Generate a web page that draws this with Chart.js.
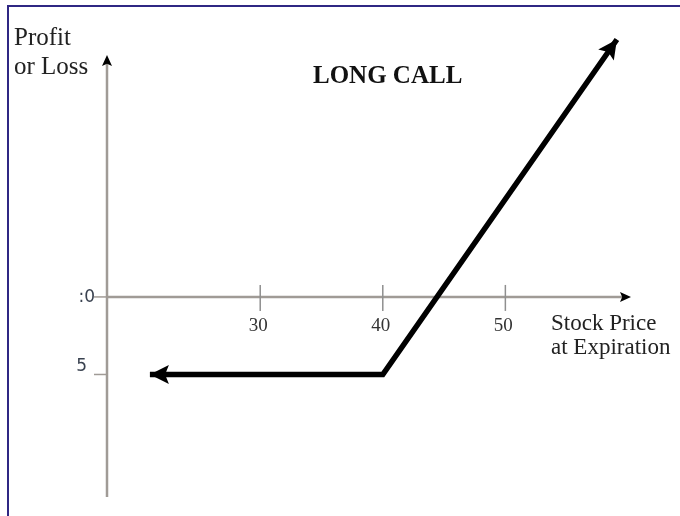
<!DOCTYPE html>
<html>
<head>
<meta charset="utf-8">
<script src="https://cdn.jsdelivr.net/npm/chart.js@4"></script>
<style>
  html, body { margin: 0; padding: 0; background: #fff; }
  .wrap { position: relative; width: 680px; height: 516px; overflow: hidden; }
  .frame { position: absolute; left: 7px; top: 5px; right: -10px; bottom: -10px;
           border-left: 2px solid #2f2783; border-top: 2px solid #2f2783; pointer-events: none; }
  canvas { position: absolute; left: 0; top: 0; }
</style>
</head>
<body>
<div class="wrap">
  <canvas id="payoff" width="680" height="516"></canvas>
  <div class="frame"></div>
</div>
<script>
// ===== DATA =====
const stockPrice  = [21, 40, 59.1];     // price at expiration
const profitLoss  = [-5, -5, 16.6];     // profit or loss
const xTicks      = [30, 40, 50];
const xTickLabels = ['30', '40', '50'];
const yTicks      = [0, -5];
const yTickLabels = [':0', '5'];
const xRange = [17.5, 60.25];
const yRange = [-12.9, 15.6];

const SERIF = '"Liberation Serif", "Times New Roman", serif';
const AXIS_GREY = '#a09b96';

// ===== HELPERS =====
function arrowHead(ctx, tipX, tipY, fromX, fromY, len, half) {
  const a = Math.atan2(tipY - fromY, tipX - fromX);
  ctx.save();
  ctx.translate(tipX, tipY);
  ctx.rotate(a);
  ctx.beginPath();
  ctx.moveTo(0, 0);
  ctx.lineTo(-len, -half);
  ctx.lineTo(-len * 0.8, 0);
  ctx.lineTo(-len, half);
  ctx.closePath();
  ctx.fill();
  ctx.restore();
}

// ===== AXES / LABELS PLUGIN =====
const axesPlugin = {
  id: 'axes',
  beforeDatasetsDraw(chart) {
    const ctx = chart.ctx;
    const xs = chart.scales.x, ys = chart.scales.y;
    const area = chart.chartArea;
    const x0 = xs.getPixelForValue(xRange[0]);
    const y0 = ys.getPixelForValue(0);

    ctx.save();
    // axis lines
    ctx.strokeStyle = AXIS_GREY;
    ctx.lineWidth = 2.5;
    ctx.beginPath();
    ctx.moveTo(x0, area.bottom);
    ctx.lineTo(x0, area.top + 6);
    ctx.moveTo(x0, y0);
    ctx.lineTo(area.right - 6, y0);
    ctx.stroke();

    ctx.fillStyle = '#000';
    arrowHead(ctx, x0, area.top, x0, area.bottom, 11, 5);
    arrowHead(ctx, area.right, y0, x0, y0, 11, 5);

    // x ticks
    ctx.strokeStyle = '#8f8f8f';
    ctx.lineWidth = 1.5;
    xTicks.forEach(v => {
      const px = xs.getPixelForValue(v);
      ctx.beginPath();
      ctx.moveTo(px, y0 - 12);
      ctx.lineTo(px, y0 + 14);
      ctx.stroke();
    });
    ctx.fillStyle = '#333';
    ctx.font = '19px ' + SERIF;
    ctx.textAlign = 'center';
    ctx.textBaseline = 'alphabetic';
    xTicks.forEach((v, i) => {
      ctx.fillText(xTickLabels[i], xs.getPixelForValue(v) - 2, y0 + 34);
    });

    // y ticks
    ctx.strokeStyle = AXIS_GREY;
    ctx.lineWidth = 1.5;
    yTicks.forEach(v => {
      const py = ys.getPixelForValue(v);
      ctx.beginPath();
      ctx.moveTo(x0 - 13, py);
      ctx.lineTo(x0, py);
      ctx.stroke();
    });
    ctx.fillStyle = '#3a4250';
    ctx.font = '17px "DejaVu Sans", sans-serif';
    ctx.textAlign = 'right';
    ctx.textBaseline = 'middle';
    const yShift = [1, -8];
    const yRight = [-12, -20];
    yTicks.forEach((v, i) => {
      ctx.fillText(yTickLabels[i], x0 + yRight[i], ys.getPixelForValue(v) + yShift[i]);
    });

    // axis titles
    ctx.fillStyle = '#222';
    ctx.textAlign = 'left';
    ctx.textBaseline = 'alphabetic';
    ctx.font = '25px ' + SERIF;
    ctx.fillText('Profit', 14, 45);
    ctx.fillText('or Loss', 14, 74);
    ctx.font = '23px ' + SERIF;
    ctx.fillText('Stock Price', 551, 330);
    ctx.fillText('at Expiration', 551, 354);

    // title
    ctx.fillStyle = '#111';
    ctx.font = 'bold 25px ' + SERIF;
    ctx.fillText('LONG CALL', 313, 83);
    ctx.restore();
  },
  afterDatasetsDraw(chart) {
    const ctx = chart.ctx;
    const pts = chart.getDatasetMeta(0).data;
    const n = pts.length;
    ctx.save();
    ctx.fillStyle = '#000';
    arrowHead(ctx, pts[0].x, pts[0].y, pts[1].x, pts[1].y, 19, 9.5);
    arrowHead(ctx, pts[n - 1].x, pts[n - 1].y, pts[n - 2].x, pts[n - 2].y, 19, 9.5);
    ctx.restore();
  }
};

// ===== CHART =====
new Chart(document.getElementById('payoff'), {
  type: 'line',
  data: {
    datasets: [{
      label: 'Long call',
      data: stockPrice.map((x, i) => ({ x, y: profitLoss[i] })),
      borderColor: '#000',
      borderWidth: 5.5,
      borderCapStyle: 'butt',
      borderJoinStyle: 'miter',
      pointRadius: 0,
      tension: 0,
      fill: false,
      clip: false
    }]
  },
  options: {
    responsive: false,
    animation: false,
    devicePixelRatio: 1,
    layout: { padding: { left: 107, right: 49, top: 55, bottom: 19 } },
    plugins: { legend: { display: false }, tooltip: { enabled: false } },
    scales: {
      x: { type: 'linear', min: xRange[0], max: xRange[1], display: false },
      y: { type: 'linear', min: yRange[0], max: yRange[1], display: false }
    }
  },
  plugins: [axesPlugin]
});
</script>
</body>
</html>
